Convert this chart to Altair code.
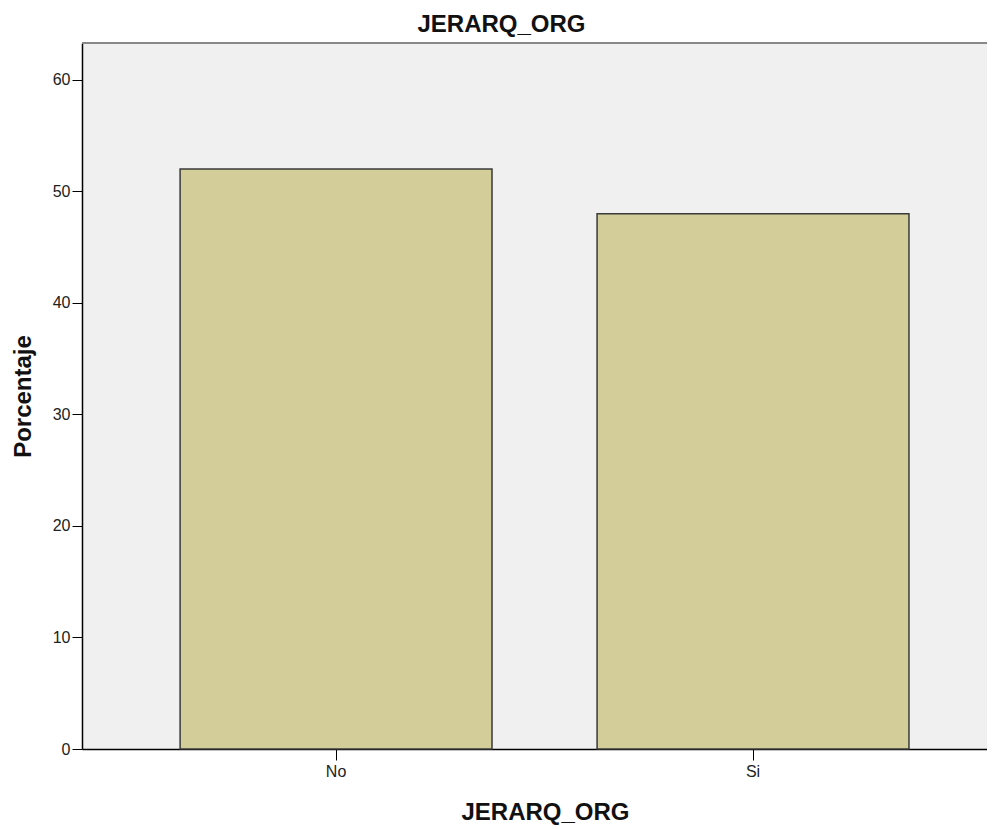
import altair as alt
import pandas as pd

categories = ["No", "Si"]
percentages = [52.0, 48.0]
y_ticks = [0, 10, 20, 30, 40, 50, 60]
Y_MAX = 63.3

df = pd.DataFrame({"JERARQ_ORG": categories, "Porcentaje": percentages})
FONT = "Liberation Sans"

x_enc = alt.X(
    "JERARQ_ORG:N",
    sort=categories,
    scale=alt.Scale(paddingInner=0.252, paddingOuter=0.2112, align=0.557),
    axis=alt.Axis(
        title="JERARQ_ORG", labelAngle=0, tickSize=11, labelPadding=3,
        labelFont=FONT, labelFontSize=16, labelColor="#222222",
        titleFont=FONT, titleFontSize=24, titleFontWeight="bold", titleColor="#111111",
        titleX=463, titleY=70, titleBaseline="alphabetic", titleAnchor="start", titleAlign="center",
        domainColor="#000000", tickColor="#000000", domainWidth=1.5, grid=False,
    ),
)
y_enc = alt.Y(
    "Porcentaje:Q",
    scale=alt.Scale(domain=[0, Y_MAX], nice=False, zero=True),
    axis=alt.Axis(
        title="Porcentaje", values=y_ticks, tickSize=10, labelPadding=2,
        labelFont=FONT, labelFontSize=16, labelColor="#222222",
        titleFont=FONT, titleFontSize=24, titleFontWeight="bold", titleColor="#111111",
        titleX=-59, titleY=353, titleAngle=270, titleAlign="center", titleBaseline="middle",
        domainColor="#000000", tickColor="#000000", domainWidth=1.5, grid=False,
    ),
)

bars = alt.Chart(df).mark_bar(
    color="#D3CE99", stroke="#3a3a3a", strokeWidth=1.5
).encode(x=x_enc, y=y_enc)

top_line = alt.Chart(pd.DataFrame({"top": [Y_MAX]})).mark_rule(
    color="#888888", strokeWidth=2
).encode(y=alt.Y("top:Q", scale=alt.Scale(domain=[0, Y_MAX], nice=False)))

chart = alt.layer(bars, top_line).properties(
    width=905,
    height=706,
    title=alt.TitleParams(
        "JERARQ_ORG", font=FONT, fontSize=24, fontWeight="bold", color="#111111",
        anchor="middle", frame="group", dx=-33, dy=28, offset=14, baseline="alphabetic",
    ),
    autosize=alt.AutoSizeParams(type="none"),
    padding={"left": 74, "top": 35, "right": 0, "bottom": 79},
).configure(
    background="#FFFFFF"
).configure_view(
    fill="#F0F0F0", stroke=None
)

chart.save("out.html", embed_options={"renderer": "svg", "actions": False})
